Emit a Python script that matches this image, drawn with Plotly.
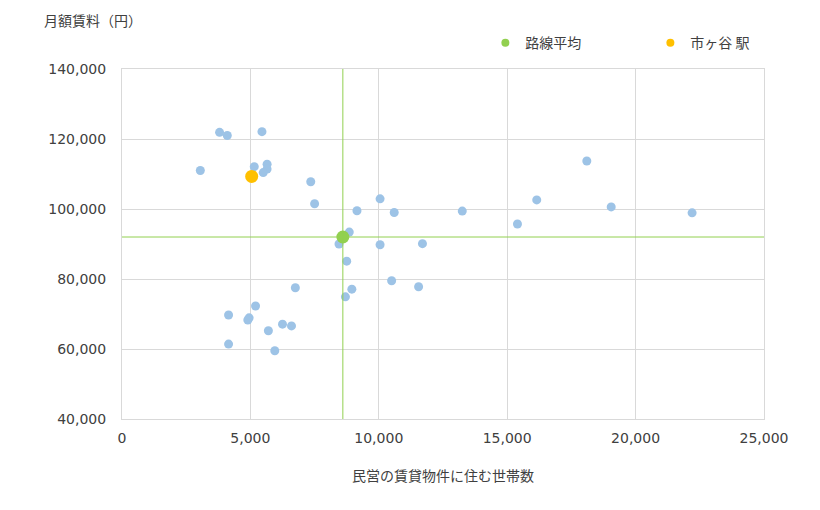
import plotly.graph_objects as go

# 各駅: 民営の賃貸物件に住む世帯数 / 月額賃料（円）
households = [3800, 4100, 5450, 3050, 5150, 5650, 5650, 5500, 7350, 7500,
              9150, 10050, 10600, 8850, 8450, 10050, 11700, 8750, 10500, 11550,
              8950, 6750, 8700, 5200, 4150, 4950, 4900, 6250, 6600, 5700,
              4150, 5950, 13250, 15400, 16150, 18100, 19050, 22200]
rent = [121900, 121000, 122100, 111000, 112100, 112800, 111400, 110400, 107800, 101500,
        99500, 102900, 99000, 93400, 90000, 89800, 90100, 85100, 79500, 77800,
        77100, 77500, 74900, 72300, 69700, 68900, 68300, 67100, 66600, 65200,
        61400, 59500, 99400, 95700, 102600, 113700, 100600, 98900]

# 路線平均
avg_x = 8600
avg_y = 92000

# 市ヶ谷 駅
station_x = 5050
station_y = 109300

x_ticks = [0, 5000, 10000, 15000, 20000, 25000]
y_ticks = [40000, 60000, 80000, 100000, 120000, 140000]

num_font = "DejaVu Sans, Noto Sans CJK JP, sans-serif"
jp_font = "Noto Sans CJK JP, sans-serif"
text_color = "#404040"
green = "#92D050"
orange = "#FFC000"

fig = go.Figure()

fig.add_trace(go.Scatter(
    x=households, y=rent, mode="markers",
    marker=dict(size=9, color="#9DC3E6"),
    showlegend=False, hoverinfo="x+y"))

fig.add_vline(x=avg_x, line=dict(color=green, width=1))
fig.add_hline(y=avg_y, line=dict(color=green, width=1))

fig.add_trace(go.Scatter(
    x=[avg_x], y=[avg_y], mode="markers", name="路線平均",
    marker=dict(size=13, color=green), showlegend=False))
fig.add_trace(go.Scatter(
    x=[station_x], y=[station_y], mode="markers", name="市ヶ谷 駅",
    marker=dict(size=13, color=orange), showlegend=False))

# 凡例用（小さい丸）
fig.add_trace(go.Scatter(
    x=[None], y=[None], mode="markers", name="路線平均",
    marker=dict(size=8, color=green)))
fig.add_trace(go.Scatter(
    x=[None], y=[None], mode="markers", name="市ヶ谷 駅",
    marker=dict(size=8, color=orange)))

# ページ余白 (8px) の分だけ小さくする
fig.update_layout(
    width=812, height=502,
    margin=dict(l=114, r=56, t=61, b=91, autoexpand=False),
    paper_bgcolor="white", plot_bgcolor="white",
    font=dict(family=num_font, size=14, color=text_color),
    legend=dict(orientation="h", x=0.566, xanchor="left", y=1.074, yanchor="middle",
                entrywidth=120, entrywidthmode="pixels", itemwidth=30,
                font=dict(family=jp_font, size=14, color=text_color)),
    annotations=[dict(text="月額賃料（円）", xref="paper", yref="paper",
                      x=-0.1246, y=1.14, xanchor="left", yanchor="middle",
                      showarrow=False, font=dict(family=jp_font, size=14, color=text_color))],
)

fig.update_xaxes(
    range=[0, 25000], tickvals=x_ticks, tickformat=",d",
    showgrid=True, gridcolor="#D9D9D9", gridwidth=1,
    showline=True, linecolor="#D9D9D9", mirror=True, zeroline=False,
    ticks="", ticklabelstandoff=6,
    title=dict(text="民営の賃貸物件に住む世帯数", standoff=26,
               font=dict(family=jp_font, size=14, color=text_color)))
fig.update_yaxes(
    range=[40000, 140000], tickvals=y_ticks, tickformat=",d",
    showgrid=True, gridcolor="#D9D9D9", gridwidth=1,
    showline=True, linecolor="#D9D9D9", mirror=True, zeroline=False,
    ticks="", ticklabelstandoff=12)

fig.write_html("out.html")
